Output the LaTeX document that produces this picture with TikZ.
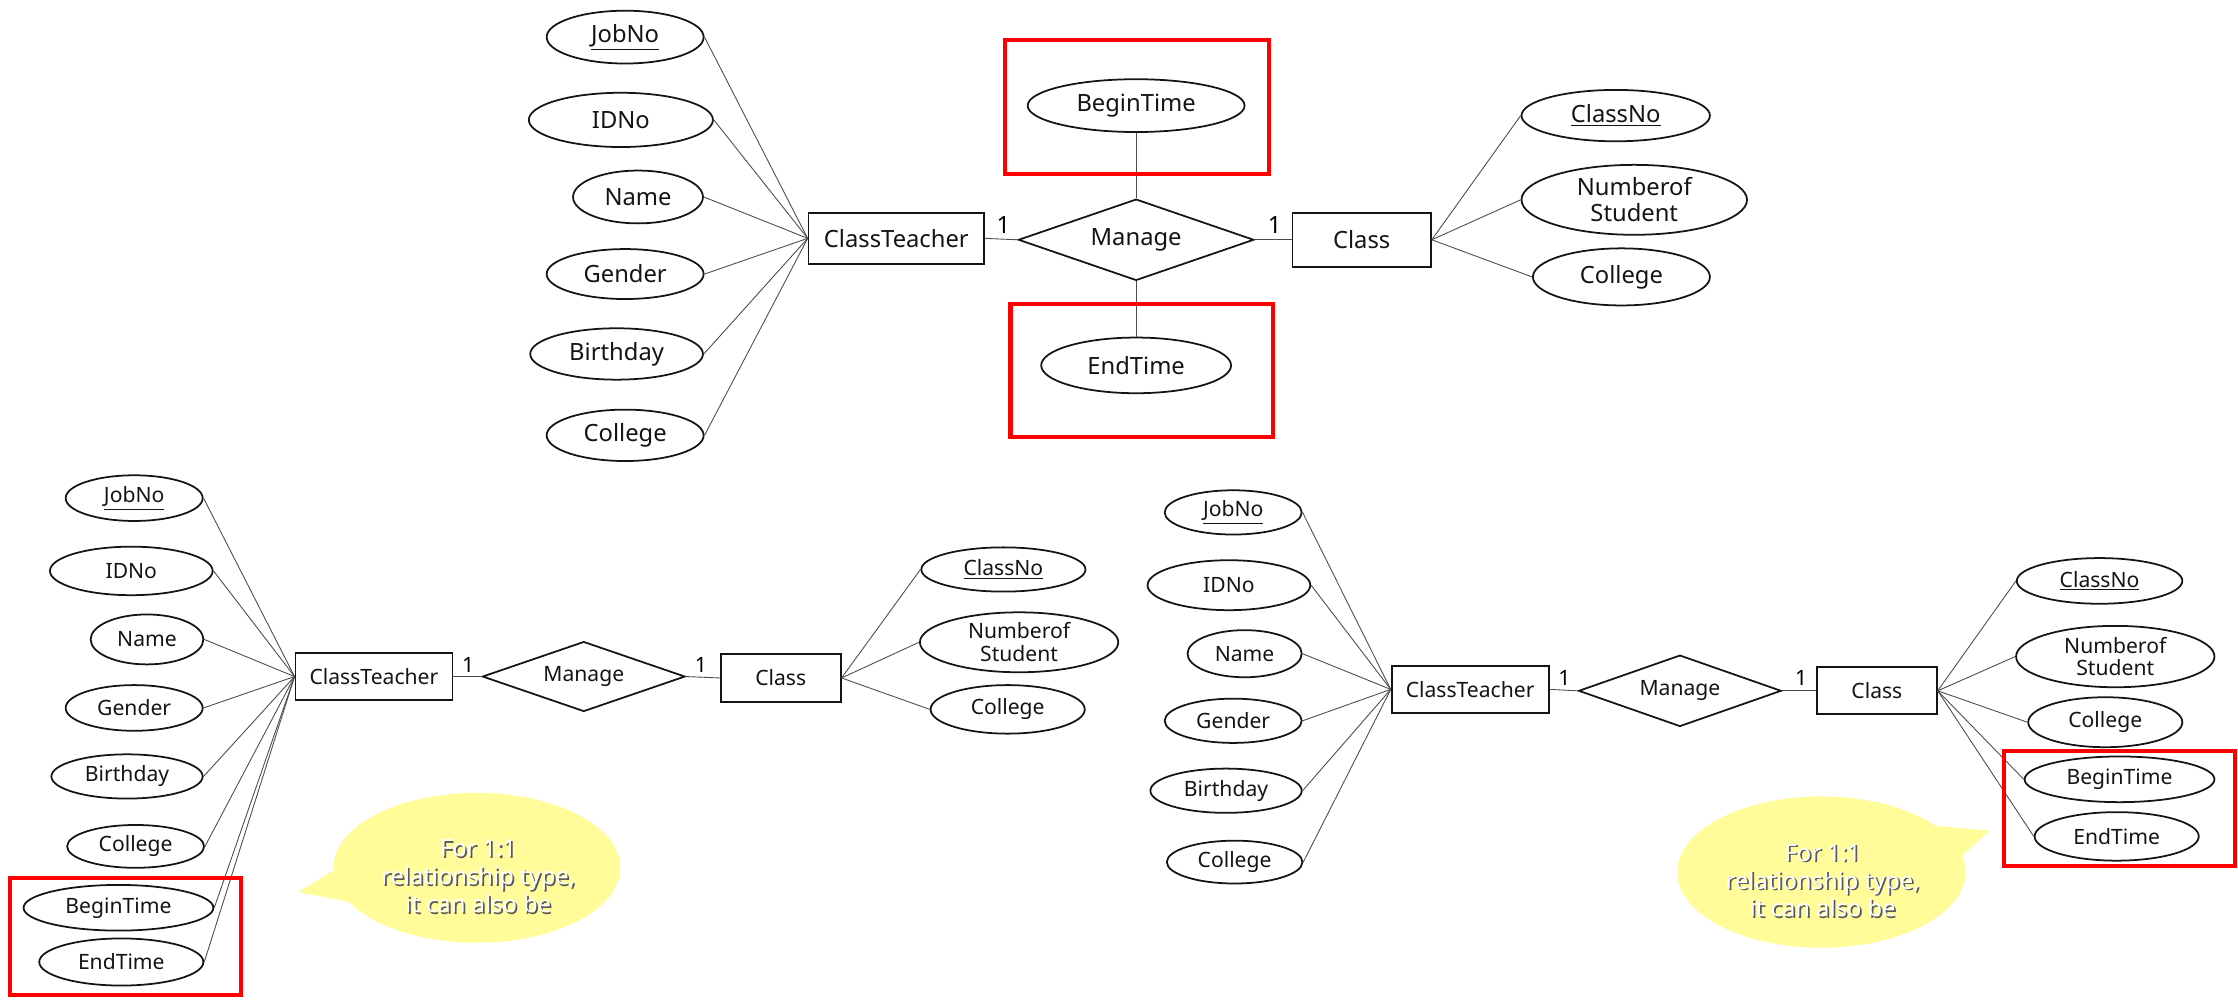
\documentclass[tikz,border=0pt]{standalone}
\usepackage{fontspec}
\setmainfont{Noto Sans}
\usetikzlibrary{shapes.geometric,shapes.callouts}
\definecolor{noteyellow}{RGB}{255,252,153}
\definecolor{inkgray}{RGB}{20,20,20}
\def\pxl{0.0285cm}
\newcommand{\notetext}{For 1:1\\relationship type,\\it can also be}

\begin{document}
\begin{tikzpicture}[x=\pxl,y=-\pxl,
  attr/.style={ellipse,draw=inkgray,line width=1pt,inner sep=0pt,align=center,text=inkgray},
  ent/.style={rectangle,draw=inkgray,line width=1pt,inner sep=0pt,text=inkgray},
  rel/.style={diamond,draw=inkgray,line width=1pt,inner sep=0pt,aspect=3,text=inkgray},
  bigtxt/.style={font=\fontsize{13.5}{15}\selectfont},
  smalltxt/.style={font=\fontsize{12}{13}\selectfont},
  link/.style={draw=black!70,line width=0.5pt},
  hlbox/.style={draw=red,line width=2.4pt},
  note/.style={ellipse callout,fill=noteyellow,callout pointer arc=25,inner sep=0pt},
  notetxt/.style={align=center,font=\fontsize{13.5}{15.8}\selectfont}]

\useasboundingbox (0,0) rectangle (1568,705);

% top
\node[ent,bigtxt,minimum width=123*\pxl,minimum height=36*\pxl] (tct) at (628,167) {ClassTeacher};
\node[rel,bigtxt,minimum width=165*\pxl,minimum height=57*\pxl] (tm) at (796,168) {Manage};
\node[ent,bigtxt,minimum width=97*\pxl,minimum height=38*\pxl] (tcl) at (954,168) {Class};
\node[attr,bigtxt,minimum width=152*\pxl,minimum height=37*\pxl] (tbt) at (796,74) {BeginTime};
\node[attr,bigtxt,minimum width=133*\pxl,minimum height=39*\pxl] (tet) at (796,256) {EndTime};
\node[bigtxt] (t1a) at (703,158) {1};
\node[bigtxt] (t1b) at (893,158) {1};

\foreach \n/\t/\x/\y/\w/\h in {tjob/\underline{JobNo}/438/26/110/37, tid/IDNo/435/84/129/38,
    tname/Name/447/138/91/37, tgen/Gender/438/192/110/35, tbir/Birthday/432/248/121/36,
    tcol/College/438/305/110/36}
    \node[attr,bigtxt,minimum width=\w*\pxl,minimum height=\h*\pxl] (\n) at (\x,\y) {\t};

\foreach \n/\t/\x/\y/\w/\h in {tcno/\underline{ClassNo}/1132/81/132/36,
    tnum/Numberof\\Student/1145/140/158/49, tccol/College/1136/194/124/40}
    \node[attr,bigtxt,minimum width=\w*\pxl,minimum height=\h*\pxl] (\n) at (\x,\y) {\t};

\foreach \n in {tjob,tid,tname,tgen,tbir,tcol}
    \draw[link] (\n.east) -- (tct.west);
\foreach \n in {tcno,tnum,tccol}
    \draw[link] (tcl.east) -- (\n.west);
\draw[link] (tct.east) -- (tm.west);
\draw[link] (tm.east) -- (tcl.west);
\draw[link] (tbt.south) -- (tm.north);
\draw[link] (tm.south) -- (tet.north);

% bottom left
\node[ent,smalltxt,minimum width=110*\pxl,minimum height=33*\pxl] (lct) at (262,474) {ClassTeacher};
\node[rel,smalltxt,minimum width=142*\pxl,minimum height=49*\pxl] (lm) at (409,474) {Manage};
\node[ent,smalltxt,minimum width=84*\pxl,minimum height=34*\pxl] (lcl) at (547,475) {Class};
\node[smalltxt] (l1a) at (328,466) {1};
\node[smalltxt] (l1b) at (491,466) {1};

\foreach \n/\t/\x/\y/\w/\h in {ljob/\underline{JobNo}/94/349/96/32, lid/IDNo/92/400/114/34,
    lname/Name/103/448/79/35, lgen/Gender/94/496/96/32, lbir/Birthday/89/544/106/31,
    lcol/College/95/593/96/30, lbt/BeginTime/83/636/133/32, let/EndTime/85/674/115/33}
    \node[attr,smalltxt,minimum width=\w*\pxl,minimum height=\h*\pxl] (\n) at (\x,\y) {\t};

\foreach \n/\t/\x/\y/\w/\h in {lcno/\underline{ClassNo}/703/399/115/31,
    lnum/Numberof\\Student/714/450/139/42, lccol/College/706/497/108/34}
    \node[attr,smalltxt,minimum width=\w*\pxl,minimum height=\h*\pxl] (\n) at (\x,\y) {\t};

\foreach \n in {ljob,lid,lname,lgen,lbir,lcol,lbt,let}
    \draw[link] (\n.east) -- (lct.west);
\foreach \n in {lcno,lnum,lccol}
    \draw[link] (lcl.east) -- (\n.west);
\draw[link] (lct.east) -- (lm.west);
\draw[link] (lm.east) -- (lcl.west);

\node[note,minimum width=201*\pxl,minimum height=105*\pxl,callout absolute pointer={(209,625)}] (noteL) at (334,608) {};
\node[notetxt,text=black!65] (noteLs) at ([xshift=1pt,yshift=-1pt]335,614) {\notetext};
\node[notetxt,text=white] (noteLt) at (335,614) {\notetext};

% bottom right
\node[ent,smalltxt,minimum width=110*\pxl,minimum height=33*\pxl] (rct) at (1030,483) {ClassTeacher};
\node[rel,smalltxt,minimum width=142*\pxl,minimum height=50*\pxl] (rm) at (1177,484) {Manage};
\node[ent,smalltxt,minimum width=84*\pxl,minimum height=33*\pxl] (rcl) at (1315,484) {Class};
\node[smalltxt] (r1a) at (1096,475) {1};
\node[smalltxt] (r1b) at (1262,475) {1};

\foreach \n/\t/\x/\y/\w/\h in {rjob/\underline{JobNo}/864/359/96/31, rid/IDNo/861/410/114/35,
    rname/Name/872/458/80/33, rgen/Gender/864/505/96/31, rbir/Birthday/859/554/106/31,
    rcol/College/865/604/95/30}
    \node[attr,smalltxt,minimum width=\w*\pxl,minimum height=\h*\pxl] (\n) at (\x,\y) {\t};

\foreach \n/\t/\x/\y/\w/\h in {rcno/\underline{ClassNo}/1471/407/116/32,
    rnum/Numberof\\Student/1482/460/139/43, rccol/College/1475/506/108/35,
    rbt/BeginTime/1485/546/133/32, ret/EndTime/1483/586/115/34}
    \node[attr,smalltxt,minimum width=\w*\pxl,minimum height=\h*\pxl] (\n) at (\x,\y) {\t};

\foreach \n in {rjob,rid,rname,rgen,rbir,rcol}
    \draw[link] (\n.east) -- (rct.west);
\foreach \n in {rcno,rnum,rccol,rbt,ret}
    \draw[link] (rcl.east) -- (\n.west);
\draw[link] (rct.east) -- (rm.west);
\draw[link] (rm.east) -- (rcl.west);

\node[note,minimum width=202*\pxl,minimum height=106*\pxl,callout absolute pointer={(1394,582)}] (noteR) at (1276,611) {};
\node[notetxt,text=black!65] (noteRs) at ([xshift=1pt,yshift=-1pt]1277,617) {\notetext};
\node[notetxt,text=white] (noteRt) at (1277,617) {\notetext};

% highlights
\draw[hlbox] (704,28) rectangle (889,122);
\draw[hlbox] (708,213) rectangle (892,306);
\draw[hlbox] (7,615) rectangle (169,697);
\draw[hlbox] (1404,526) rectangle (1566,607);

\end{tikzpicture}
\end{document}
